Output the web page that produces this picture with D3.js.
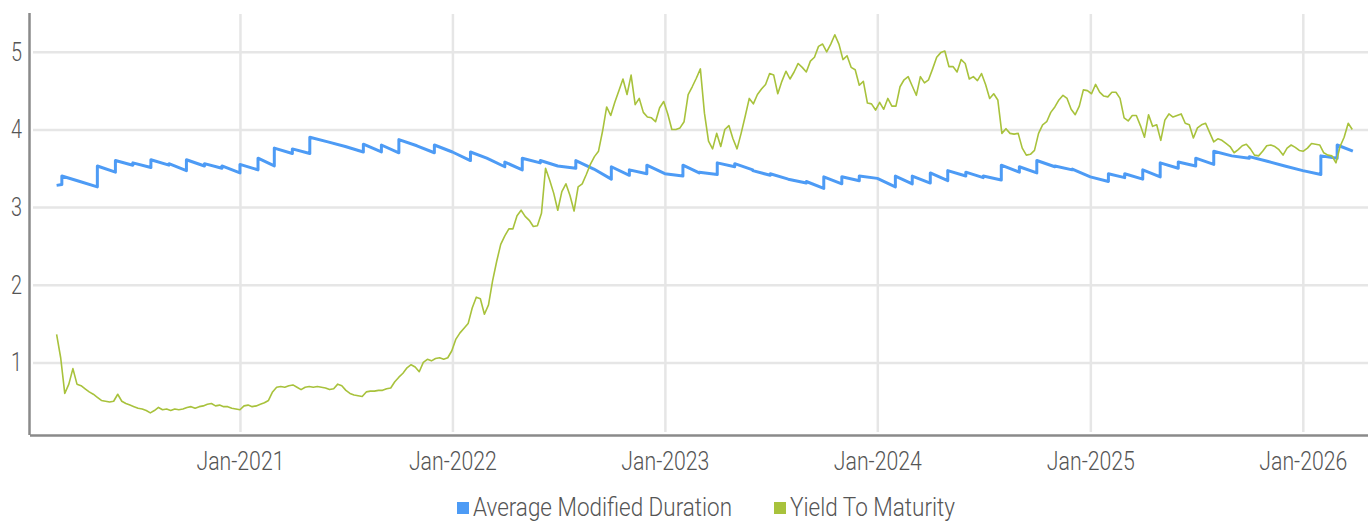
<!DOCTYPE html>
<html>
<head>
<meta charset="utf-8">
<script src="https://cdn.jsdelivr.net/npm/d3@7"></script>
<style>
  html, body { margin: 0; padding: 0; background: #fff; }
  svg { display: block; font-family: Roboto, "Open Sans", sans-serif; font-weight: 300; }
</style>
</head>
<body>
<svg width="1368" height="522"></svg>
<script>
// series names
const seriesNames = ["Average Modified Duration", "Yield To Maturity"];
const seriesColors = ["#4d9bf5", "#a8c23c"];

// y ticks / x ticks
const yTicks = [1, 2, 3, 4, 5];
const xTickYears = [2021, 2022, 2023, 2024, 2025, 2026];

// duration: month start (after rebalance) and month end values
const durStart = "2020-02-21";
const durEnd = "2026-03-28";
const durOpen = [3.28, 3.40, 3.33, 3.53, 3.60, 3.57, 3.61, 3.56, 3.61, 3.56, 3.53,
  3.55, 3.63, 3.76, 3.75, 3.90, 3.84, 3.78, 3.81, 3.80, 3.87, 3.79, 3.80,
  3.71, 3.71, 3.63, 3.58, 3.63, 3.60, 3.53, 3.60, 3.49, 3.52, 3.48, 3.54,
  3.43, 3.54, 3.45, 3.57, 3.56, 3.47, 3.43, 3.36, 3.33, 3.39, 3.39, 3.40,
  3.37, 3.40, 3.40, 3.44, 3.47, 3.45, 3.40, 3.54, 3.52, 3.60, 3.53, 3.49,
  3.39, 3.43, 3.43, 3.48, 3.57, 3.58, 3.63, 3.72, 3.66, 3.65, 3.59, 3.53,
  3.47, 3.66, 3.80];
const durClose = [3.29, 3.33, 3.26, 3.45, 3.54, 3.51, 3.54, 3.47, 3.53, 3.50, 3.44,
  3.48, 3.53, 3.69, 3.69, 3.84, 3.78, 3.71, 3.71, 3.70, 3.79, 3.70, 3.71,
  3.60, 3.63, 3.52, 3.48, 3.57, 3.53, 3.50, 3.49, 3.36, 3.41, 3.43, 3.43,
  3.40, 3.44, 3.42, 3.52, 3.48, 3.41, 3.36, 3.31, 3.24, 3.30, 3.34, 3.37,
  3.26, 3.30, 3.31, 3.34, 3.40, 3.38, 3.35, 3.45, 3.44, 3.52, 3.48, 3.39,
  3.33, 3.38, 3.36, 3.39, 3.50, 3.53, 3.55, 3.66, 3.63, 3.59, 3.53, 3.47,
  3.42, 3.63, 3.72];

// yield to maturity, weekly from ytmStart
const ytmStart = "2020-02-21";
const ytmStepDays = 7;
const ytm = [
  1.36, 1.06, 0.60, 0.72, 0.92, 0.72, 0.70, 0.66, 0.62, 0.59,
  0.55, 0.51, 0.50, 0.49, 0.50, 0.59, 0.50, 0.47, 0.45, 0.43,
  0.41, 0.40, 0.38, 0.35, 0.38, 0.42, 0.39, 0.40, 0.38, 0.40,
  0.39, 0.40, 0.42, 0.43, 0.41, 0.43, 0.44, 0.46, 0.47, 0.44,
  0.45, 0.43, 0.43, 0.41, 0.40, 0.39, 0.44, 0.45, 0.43, 0.44,
  0.46, 0.48, 0.51, 0.62, 0.68, 0.69, 0.68, 0.70, 0.71, 0.68,
  0.65, 0.68, 0.69, 0.68, 0.69, 0.68, 0.67, 0.65, 0.66, 0.72,
  0.70, 0.64, 0.60, 0.58, 0.57, 0.56, 0.62, 0.63, 0.63, 0.64,
  0.64, 0.66, 0.67, 0.75, 0.81, 0.86, 0.93, 0.97, 0.94, 0.88,
  1.00, 1.04, 1.02, 1.05, 1.06, 1.04, 1.06, 1.15, 1.30, 1.38,
  1.44, 1.50, 1.70, 1.84, 1.82, 1.62, 1.74, 2.05, 2.30, 2.52,
  2.63, 2.72, 2.72, 2.89, 2.96, 2.88, 2.83, 2.75, 2.76, 2.92,
  3.50, 3.35, 3.18, 2.96, 3.20, 3.30, 3.15, 2.95, 3.26, 3.30,
  3.42, 3.55, 3.65, 3.72, 3.98, 4.29, 4.18, 4.35, 4.50, 4.65,
  4.45, 4.70, 4.32, 4.40, 4.22, 4.16, 4.15, 4.10, 4.28, 4.36,
  4.20, 4.00, 4.00, 4.02, 4.10, 4.45, 4.55, 4.66, 4.78, 4.21,
  3.85, 3.75, 3.95, 3.78, 4.00, 4.05, 3.88, 3.75, 3.95, 4.17,
  4.40, 4.33, 4.45, 4.52, 4.58, 4.72, 4.70, 4.46, 4.62, 4.75,
  4.65, 4.74, 4.85, 4.80, 4.74, 4.88, 4.93, 5.07, 5.10, 5.00,
  5.10, 5.22, 5.10, 4.90, 4.95, 4.80, 4.77, 4.57, 4.62, 4.34,
  4.33, 4.25, 4.35, 4.26, 4.40, 4.30, 4.30, 4.55, 4.64, 4.68,
  4.56, 4.44, 4.68, 4.60, 4.64, 4.78, 4.93, 4.99, 5.01, 4.81,
  4.81, 4.74, 4.90, 4.85, 4.65, 4.68, 4.63, 4.72, 4.58, 4.40,
  4.46, 4.38, 3.95, 4.01, 3.95, 3.94, 3.95, 3.76, 3.67, 3.68,
  3.73, 3.95, 4.06, 4.10, 4.22, 4.29, 4.38, 4.44, 4.40, 4.26,
  4.19, 4.30, 4.51, 4.50, 4.46, 4.58, 4.48, 4.43, 4.42, 4.48,
  4.48, 4.40, 4.15, 4.11, 4.18, 4.18, 4.05, 3.90, 4.19, 4.04,
  4.06, 3.86, 4.12, 4.20, 4.16, 4.18, 4.20, 4.08, 4.06, 3.89,
  4.02, 4.06, 4.08, 3.96, 3.84, 3.88, 3.86, 3.82, 3.78, 3.70,
  3.74, 3.79, 3.81, 3.75, 3.67, 3.66, 3.72, 3.79, 3.80, 3.78,
  3.74, 3.67, 3.76, 3.80, 3.77, 3.73, 3.72, 3.76, 3.82, 3.81,
  3.80, 3.70, 3.67, 3.66, 3.57, 3.78, 3.90, 4.08, 4.00];

const width = 1368;
const height = 522;
const parse = d3.timeParse("%Y-%m-%d");

const svg = d3.select("svg");

const x = d3.scaleTime()
  .domain([new Date(2020, 0, 8), new Date(2026, 3, 23)])
  .range([31, width]);
const y = d3.scaleLinear()
  .domain([0.065, 5.5])
  .range([435, 13]);

// build duration vertices: jump at each month start, drift down to next one
const monthStarts = [parse(durStart)].concat(
  d3.timeMonth.range(new Date(2020, 2, 1), new Date(2026, 2, 2)));
const durPoints = [];
durOpen.forEach((v, i) => {
  const next = i + 1 < monthStarts.length ? monthStarts[i + 1] : parse(durEnd);
  durPoints.push([monthStarts[i], v]);
  durPoints.push([next, durClose[i]]);
});

const ytmPoints = ytm.map((v, i) => [d3.timeDay.offset(parse(ytmStart), i * ytmStepDays), v]);

// grid
svg.append("g")
  .attr("transform", "translate(33,0)")
  .call(d3.axisLeft(y).tickValues(yTicks).tickSize(-(width - 33)).tickFormat(""))
  .call(g => g.select(".domain").remove())
  .call(g => g.selectAll("line").attr("stroke", "#e6e6e6").attr("stroke-width", 2.5));

const xTicks = xTickYears.map(yr => new Date(yr, 0, 1));
svg.append("g")
  .attr("transform", "translate(0,432)")
  .call(d3.axisBottom(x).tickValues(xTicks).tickSize(-418).tickFormat(""))
  .call(g => g.select(".domain").remove())
  .call(g => g.selectAll("line").attr("stroke", "#e6e6e6").attr("stroke-width", 2.5));

// axis lines
svg.append("line")
  .attr("x1", 29.5).attr("x2", 29.5).attr("y1", 13).attr("y2", 435)
  .attr("stroke", "#8a8a8a").attr("stroke-width", 2.5);
svg.append("line")
  .attr("x1", 30).attr("x2", width).attr("y1", 435.5).attr("y2", 435.5)
  .attr("stroke", "#8a8a8a").attr("stroke-width", 2.5);

// tick labels
svg.append("g")
  .attr("transform", "translate(22,0)")
  .call(d3.axisLeft(y).tickValues(yTicks).tickSize(0).tickPadding(0).tickFormat(d3.format("d")))
  .call(g => g.select(".domain").remove())
  .call(g => g.selectAll("text")
    .attr("fill", "#555").attr("font-size", 26)
    .attr("font-family", "Roboto, sans-serif").attr("font-weight", 300)
    .attr("textLength", 11).attr("lengthAdjust", "spacingAndGlyphs"));

svg.append("g")
  .attr("transform", "translate(0,452)")
  .call(d3.axisBottom(x).tickValues(xTicks).tickSize(0).tickPadding(0).tickFormat(d3.timeFormat("%b-%Y")))
  .call(g => g.select(".domain").remove())
  .call(g => g.selectAll("text")
    .attr("fill", "#555").attr("font-size", 26)
    .attr("font-family", "Roboto, sans-serif").attr("font-weight", 300)
    .attr("textLength", 88).attr("lengthAdjust", "spacingAndGlyphs"));

// lines
const line = d3.line().x(d => x(d[0])).y(d => y(d[1]));

svg.append("path")
  .datum(durPoints)
  .attr("fill", "none")
  .attr("stroke", seriesColors[0])
  .attr("stroke-width", 3)
  .attr("stroke-linejoin", "round")
  .attr("d", line);

svg.append("path")
  .datum(ytmPoints)
  .attr("fill", "none")
  .attr("stroke", seriesColors[1])
  .attr("stroke-width", 1.6)
  .attr("stroke-linejoin", "round")
  .attr("d", line);

// legend
const legendX = [457, 774];
const legendW = [259, 165];
const legend = svg.append("g");
seriesNames.forEach((name, i) => {
  legend.append("rect")
    .attr("x", legendX[i]).attr("y", 502)
    .attr("width", 12).attr("height", 12)
    .attr("fill", seriesColors[i]);
  legend.append("text")
    .attr("x", legendX[i] + 16).attr("y", 516)
    .attr("fill", "#555").attr("font-size", 26)
    .attr("font-family", "Roboto, sans-serif").attr("font-weight", 300)
    .attr("textLength", legendW[i]).attr("lengthAdjust", "spacingAndGlyphs")
    .text(name);
});
</script>
</body>
</html>
